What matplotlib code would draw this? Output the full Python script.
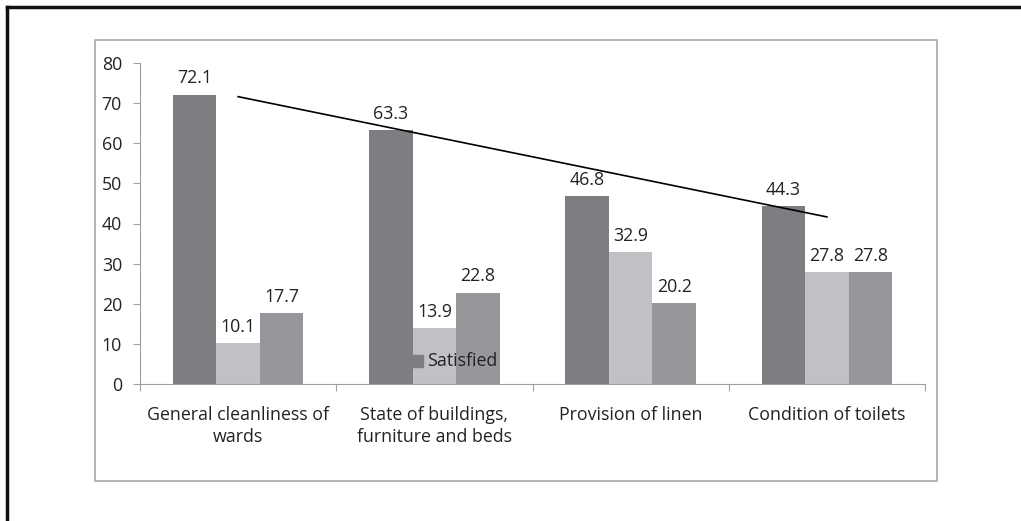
import numpy as np
import matplotlib.pyplot as plt
from matplotlib.patches import Rectangle
from matplotlib.lines import Line2D

plt.rcParams['font.family'] = ['Open Sans', 'DejaVu Sans']

categories = ["General cleanliness of\nwards", "State of buildings,\nfurniture and beds",
              "Provision of linen", "Condition of toilets"]
satisfied = [72.1, 63.3, 46.8, 44.3]
series2 = [10.1, 13.9, 32.9, 27.8]
series3 = [17.7, 22.8, 20.2, 27.8]
colors = ["#7d7e82", "#c1c1c5", "#96979a"]

fig = plt.figure(figsize=(10.21, 5.21), dpi=100)
ax = fig.add_axes([140/1021, 1-384/521, 785/1021, 321/521])

x = np.arange(len(categories))
w = 0.222
for i, (vals, c) in enumerate(zip([satisfied, series2, series3], colors)):
    pos = x + (i - 1) * w
    ax.bar(pos, vals, width=w, color=c)
    for p, v in zip(pos, vals):
        ax.text(p, v + 1.8, f"{v}", ha="center", va="bottom", fontsize=12.8, color="#222222")

# linear trend of satisfied
k, b = np.polyfit(x, satisfied, 1)
ax.plot([x[0], x[-1]], [b, b + k * x[-1]], color="black", lw=1.2)

ax.set_xlim(-0.5, 3.5)
ax.set_ylim(0, 80)
ax.set_yticks(range(0, 81, 10))
ax.set_xticks(np.arange(-0.5, 4, 1))
ax.set_xticklabels([])
ax.tick_params(axis="y", labelsize=12.8, length=5, color="#a0a0a0", pad=8, labelcolor="#222222")
ax.tick_params(axis="x", length=5, color="#a0a0a0")
for s in ["top", "right"]:
    ax.spines[s].set_visible(False)
for s in ["left", "bottom"]:
    ax.spines[s].set_color("#a0a0a0")
for xi, lab in zip(x, categories):
    ax.text(xi, -5.5, lab, ha="center", va="top", fontsize=12.8, color="#222222",
            linespacing=1.3)

# partial legend entry
ax.add_patch(Rectangle((0.888, 4.2), 0.056, 3.0, color=colors[0], clip_on=False, zorder=3))
ax.text(0.962, 5.8, "Satisfied", ha="left", va="center", fontsize=12.8, color="#222222", zorder=4)

# chart box and outer frame
fig.patches.append(Rectangle((95/1021, 1-481/521), 842/1021, 441/521, transform=fig.transFigure,
                             fill=False, edgecolor="#a8a8a8", lw=1.2))
fig.lines.append(Line2D([7/1021, 7/1021], [0, 1-7/521], transform=fig.transFigure, color="#111111", lw=2.5))
fig.lines.append(Line2D([7/1021, 1], [1-7/521, 1-7/521], transform=fig.transFigure, color="#111111", lw=2.5))

fig.savefig("out.png", dpi=100)
